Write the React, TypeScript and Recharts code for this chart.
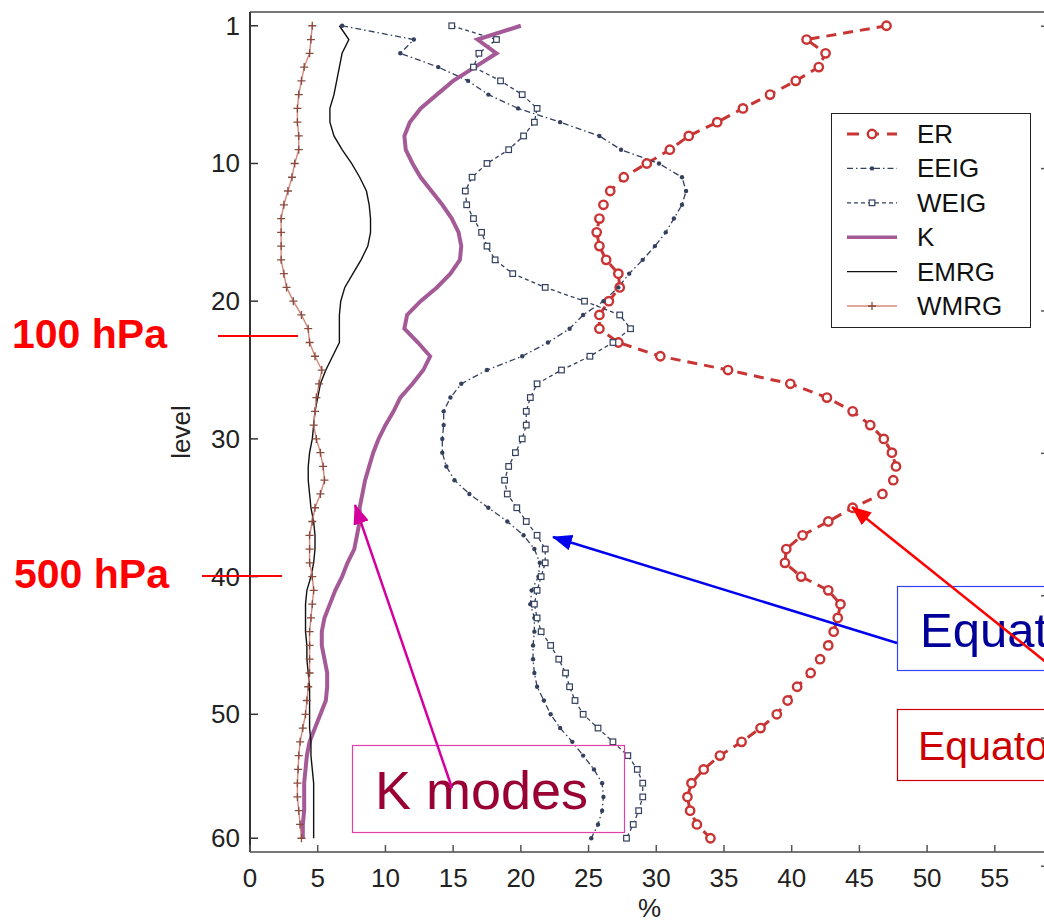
import React from "react";
import { LineChart, Line, XAxis, YAxis, Legend } from "recharts";

/* ---------- DATA ---------- */

const levels = [
  1, 2, 3, 4, 5, 6, 7, 8, 9, 10,
  11, 12, 13, 14, 15, 16, 17, 18, 19, 20,
  21, 22, 23, 24, 25, 26, 27, 28, 29, 30,
  31, 32, 33, 34, 35, 36, 37, 38, 39, 40,
  41, 42, 43, 44, 45, 46, 47, 48, 49, 50,
  51, 52, 53, 54, 55, 56, 57, 58, 59, 60
];

const erValues = [
  47.0, 41.1, 42.5, 42.0, 40.3, 38.4, 36.4, 34.5, 32.4, 31.0,
  29.3, 27.6, 26.6, 26.1, 25.8, 25.6, 25.8, 26.3, 27.2, 27.3,
  26.5, 25.8, 25.8, 27.2, 30.3, 35.3, 39.9, 42.6, 44.5, 45.8,
  46.8, 47.4, 47.7, 47.5, 46.7, 44.5, 42.7, 40.8, 39.6, 39.5,
  40.7, 42.7, 43.6, 43.4, 43.1, 42.7, 42.1, 41.4, 40.4, 39.7,
  38.9, 37.7, 36.3, 34.7, 33.5, 32.6, 32.3, 32.5, 33.0, 34.0
];

const eeigValues = [
  6.8, 12.1, 11.1, 13.9, 16.1, 17.6, 19.8, 22.9, 25.8, 27.4,
  30.2, 31.9, 32.2, 31.9, 31.3, 30.7, 29.9, 29.0, 28.0, 27.2,
  26.1, 24.6, 23.6, 22.0, 20.1, 17.5, 15.6, 14.8, 14.3, 14.3,
  14.2, 14.2, 14.5, 15.1, 16.2, 17.6, 19.0, 20.2, 21.0, 21.4,
  21.3, 20.8, 20.7, 21.0, 21.0, 20.9, 20.9, 21.0, 21.2, 21.7,
  22.2, 22.9, 23.8, 24.6, 25.4, 26.0, 26.1, 26.0, 25.7, 25.2
];

const weigValues = [
  14.9, 18.2, 16.9, 16.5, 18.5, 20.1, 21.2, 21.0, 20.2, 19.1,
  17.5, 16.4, 15.9, 16.0, 16.5, 17.1, 17.5, 18.1, 19.4, 21.8,
  24.7, 27.3, 28.1, 26.8, 25.1, 23.0, 21.2, 20.7, 20.4, 20.4,
  20.1, 19.6, 19.1, 18.8, 19.0, 19.7, 20.4, 21.2, 21.8, 21.8,
  21.5, 21.2, 21.0, 21.2, 21.5, 22.2, 22.8, 23.3, 23.6, 24.0,
  24.6, 25.7, 26.8, 27.9, 28.6, 29.0, 29.0, 28.7, 28.3, 27.8
];

const kValues = [
  20.0, 16.8, 18.2, 16.6, 15.0, 13.8, 12.6, 11.8, 11.4, 11.5,
  12.0, 12.6, 13.4, 14.2, 14.9, 15.4, 15.6, 15.5, 14.8, 13.8,
  12.6, 11.6, 11.4, 12.4, 13.3, 12.8, 12.0, 11.1, 10.6, 10.0,
  9.5, 9.1, 8.8, 8.5, 8.3, 8.1, 8.1, 7.9, 7.7, 7.2,
  6.8, 6.3, 5.9, 5.5, 5.3, 5.3, 5.5, 5.7, 5.7, 5.6,
  5.2, 4.8, 4.4, 4.2, 4.1, 4.0, 4.0, 4.0, 3.9, 3.9
];

const emrgValues = [
  6.6, 7.3, 6.8, 6.6, 6.4, 6.2, 5.9, 5.9, 6.2, 6.8,
  7.5, 8.1, 8.6, 8.8, 8.9, 8.9, 8.7, 8.2, 7.6, 7.0,
  6.7, 6.6, 6.6, 6.6, 6.1, 5.6, 5.2, 5.0, 4.8, 4.7,
  4.6, 4.4, 4.3, 4.3, 4.4, 4.5, 4.7, 4.8, 4.8, 4.7,
  4.5, 4.2, 4.1, 4.1, 4.1, 4.2, 4.2, 4.3, 4.4, 4.4,
  4.4, 4.4, 4.5, 4.5, 4.6, 4.7, 4.7, 4.7, 4.7, 4.7
];

const wmrgValues = [
  4.6, 4.5, 4.4, 4.0, 3.8, 3.6, 3.5, 3.5, 3.6, 3.6,
  3.3, 3.1, 2.8, 2.5, 2.3, 2.3, 2.3, 2.3, 2.5, 2.7,
  3.2, 3.8, 4.3, 4.4, 4.8, 5.3, 5.1, 4.9, 4.8, 4.7,
  4.9, 5.2, 5.4, 5.5, 5.2, 4.8, 4.6, 4.4, 4.4, 4.4,
  4.6, 4.7, 4.6, 4.5, 4.4, 4.4, 4.4, 4.4, 4.3, 4.2,
  4.1, 3.9, 3.7, 3.6, 3.55, 3.5, 3.5, 3.6, 3.7, 3.8
];

const xTicks = [0, 5, 10, 15, 20, 25, 30, 35, 40, 45, 50, 55];
const yTickLevels = [1, 11, 21, 31, 41, 51, 60];
const yTickLabels = ["1", "10", "20", "30", "40", "50", "60"];

const FONT = "'Liberation Sans', Arial, Helvetica, sans-serif";

/* ---------- SERIES STYLE ---------- */

const SERIES = [
  { key: "ER", color: "#c93434", markColor: "#c93434", width: 3, dash: "10 7", marker: "circle" },
  { key: "EEIG", color: "#34405e", markColor: "#34405e", width: 1.3, dash: "6 3 1.5 3", marker: "dot" },
  { key: "WEIG", color: "#34405e", markColor: "#34405e", width: 1.3, dash: "4 3", marker: "square" },
  { key: "K", color: "#a45a96", markColor: "#a45a96", width: 4, dash: undefined, marker: "none" },
  { key: "EMRG", color: "#111111", markColor: "#111111", width: 1.4, dash: undefined, marker: "none" },
  { key: "WMRG", color: "#d4887a", markColor: "#8a4a3e", width: 1.4, dash: undefined, marker: "plus" }
];

const chartData = levels.map((level, i) => ({
  level,
  ER: erValues[i],
  EEIG: eeigValues[i],
  WEIG: weigValues[i],
  K: kValues[i],
  EMRG: emrgValues[i],
  WMRG: wmrgValues[i]
}));

/* ---------- MARKERS ---------- */

function drawMarker(kind: string, color: string, cx: number, cy: number, key?: any) {
  if (kind === "circle") {
    return <circle key={key} cx={cx} cy={cy} r={4.2} fill="#fff" stroke={color} strokeWidth={2.4} />;
  }
  if (kind === "dot") {
    return <circle key={key} cx={cx} cy={cy} r={2.2} fill={color} />;
  }
  if (kind === "square") {
    return <rect key={key} x={cx - 2.8} y={cy - 2.8} width={5.6} height={5.6} fill="#fff" stroke={color} strokeWidth={1.2} />;
  }
  if (kind === "plus") {
    return (
      <path key={key} d={`M${cx - 4},${cy}H${cx + 4}M${cx},${cy - 4}V${cy + 4}`} stroke={color} strokeWidth={1.3} />
    );
  }
  return <g key={key} />;
}

function makeDot(kind: string, color: string) {
  return (props: any) => {
    const { cx, cy, index } = props;
    if (cx == null || cy == null) return <g key={`e-${index}`} />;
    return drawMarker(kind, color, cx, cy, `m-${index}`);
  };
}

/* ---------- TICKS ---------- */

function BottomTick({ x, y, payload }: any) {
  return (
    <g>
      <line x1={x} y1={y} x2={x} y2={y - 7} stroke="#555" strokeWidth={1.5} />
      <text x={x} y={y + 35} textAnchor="middle" fontSize={26} fill="#222" fontFamily={FONT}>
        {payload.value}
      </text>
    </g>
  );
}

function TopTick({ x, y }: any) {
  return <line x1={x} y1={y} x2={x} y2={y + 7} stroke="#555" strokeWidth={1.5} />;
}

function LeftTick({ x, y, payload }: any) {
  const idx = yTickLevels.indexOf(payload.value);
  return (
    <g>
      <line x1={x} y1={y} x2={x + 8} y2={y} stroke="#333" strokeWidth={1.5} />
      <text x={x - 10} y={y + 9} textAnchor="end" fontSize={26} fill="#222" fontFamily={FONT}>
        {idx >= 0 ? yTickLabels[idx] : payload.value}
      </text>
    </g>
  );
}

function RightTick({ x, y }: any) {
  return <line x1={x} y1={y} x2={x - 8} y2={y} stroke="#555" strokeWidth={1.5} />;
}

/* ---------- LEGEND ---------- */

function ChartLegend() {
  return (
    <div
      style={{
        width: 200,
        height: 215,
        border: "1.5px solid #222",
        background: "#fff",
        boxSizing: "border-box"
      }}
    >
      <svg width={197} height={212}>
        {SERIES.map((s, i) => {
          const cy = 20 + i * 34.4;
          return (
            <g key={s.key}>
              <line x1={15} y1={cy} x2={65} y2={cy} stroke={s.color} strokeWidth={Math.min(s.width, 3.5)} strokeDasharray={s.dash ? (s.key === "ER" ? "12 8" : s.dash) : undefined} />
              {drawMarker(s.marker, s.markColor, 40, cy)}
              <text x={85} y={cy + 9} fontSize={26} fill="#111" fontFamily={FONT}>
                {s.key}
              </text>
            </g>
          );
        })}
      </svg>
    </div>
  );
}

/* ---------- ANNOTATIONS ---------- */

function Annotations() {
  return (
    <svg
      width={1044}
      height={923}
      style={{ position: "absolute", left: 0, top: 0, pointerEvents: "none" }}
    >
      <defs>
        <marker id="ah-mag" markerUnits="userSpaceOnUse" markerWidth={20} markerHeight={16} refX={19} refY={8} orient="auto">
          <path d="M0,0 L20,8 L0,16 z" fill="#d4009e" />
        </marker>
        <marker id="ah-blue" markerUnits="userSpaceOnUse" markerWidth={20} markerHeight={16} refX={19} refY={8} orient="auto">
          <path d="M0,0 L20,8 L0,16 z" fill="#0000ee" />
        </marker>
        <marker id="ah-red" markerUnits="userSpaceOnUse" markerWidth={20} markerHeight={16} refX={19} refY={8} orient="auto">
          <path d="M0,0 L20,8 L0,16 z" fill="#ff0000" />
        </marker>
      </defs>

      {/* pressure labels */}
      <text x={12} y={348} fontSize={41} fontWeight="bold" fill="#ff0000" fontFamily={FONT}>100 hPa</text>
      <line x1={218} y1={336} x2={298} y2={336} stroke="#ff0000" strokeWidth={2} />
      <text x={14} y={588} fontSize={41} fontWeight="bold" fill="#ff0000" fontFamily={FONT}>500 hPa</text>
      <line x1={202} y1={576} x2={282} y2={576} stroke="#ff0000" strokeWidth={2} />

      {/* K modes box */}
      <rect x={352.5} y={745.5} width={272} height={87} fill="none" stroke="#e040a8" strokeWidth={1.2} />
      <text x={375} y={809} fontSize={54} fill="#990033" fontFamily={FONT}>K modes</text>

      {/* equatorial boxes */}
      <rect x={897.5} y={586.5} width={200} height={84} fill="none" stroke="#3344ee" strokeWidth={1.2} />
      <text x={920} y={647} fontSize={49} fill="#000099" fontFamily={FONT}>Equatorial IG modes</text>
      <rect x={897.5} y={709.5} width={200} height={71} fill="none" stroke="#cc0000" strokeWidth={1.2} />
      <text x={918} y={760} fontSize={41} fill="#cc0000" fontFamily={FONT}>Equatorial Rossby modes</text>

      {/* arrows */}
      <line x1={452} y1={788} x2={355} y2={505} stroke="#d4009e" strokeWidth={2.5} markerEnd="url(#ah-mag)" />
      <line x1={897} y1={643} x2={553} y2={537} stroke="#0000ee" strokeWidth={2.5} markerEnd="url(#ah-blue)" />
      <line x1={1062} y1={675} x2={852} y2={507} stroke="#ff0000" strokeWidth={2.5} markerEnd="url(#ah-red)" />
    </svg>
  );
}

/* ---------- CHART ---------- */

export default function App() {
  return (
    <div
      style={{
        position: "absolute",
        left: 0,
        top: 0,
        width: 1044,
        height: 923,
        overflow: "hidden",
        background: "#fff"
      }}
    >
      <LineChart
        width={1060}
        height={923}
        data={chartData}
        layout="vertical"
        margin={{ top: 11, right: 10, left: 0, bottom: 0 }}
      >
        <XAxis
          type="number"
          domain={[0, 59]}
          ticks={xTicks}
          interval={0}
          height={71}
          tickSize={0}
          tickMargin={0}
          tick={<BottomTick />}
          axisLine={{ stroke: "#777", strokeWidth: 2 }}
          label={{
            value: "%",
            content: (p: any) => (
              <text
                x={p.viewBox.x + p.viewBox.width / 2}
                y={p.viewBox.y + 65}
                textAnchor="middle"
                fontSize={26}
                fill="#222"
                fontFamily={FONT}
              >
                %
              </text>
            )
          }}
        />
        <XAxis
          xAxisId="top"
          orientation="top"
          type="number"
          domain={[0, 59]}
          ticks={xTicks}
          interval={0}
          height={1}
          tickSize={0}
          tickMargin={0}
          tick={<TopTick />}
          axisLine={{ stroke: "#777", strokeWidth: 2 }}
        />
        <YAxis
          type="number"
          dataKey="level"
          domain={[0, 61]}
          ticks={yTickLevels}
          interval={0}
          width={250}
          tickSize={0}
          tickMargin={0}
          tick={<LeftTick />}
          axisLine={{ stroke: "#333", strokeWidth: 2 }}
          label={{
            value: "level",
            content: (p: any) => {
              const cx = p.viewBox.x + 190;
              const cy = p.viewBox.y + p.viewBox.height / 2;
              return (
                <text
                  x={cx}
                  y={cy}
                  textAnchor="middle"
                  fontSize={26}
                  fill="#222"
                  fontFamily={FONT}
                  transform={`rotate(-90, ${cx}, ${cy})`}
                >
                  level
                </text>
              );
            }
          }}
        />
        <YAxis
          yAxisId="right"
          orientation="right"
          type="number"
          domain={[0, 61]}
          ticks={yTickLevels}
          interval={0}
          width={1}
          tickSize={0}
          tickMargin={0}
          tick={<RightTick />}
          axisLine={{ stroke: "#777", strokeWidth: 2 }}
        />

        {SERIES.map((s) => (
          <Line
            key={s.key}
            dataKey={s.key}
            name={s.key}
            type="linear"
            stroke={s.color}
            strokeWidth={s.width}
            strokeDasharray={s.dash}
            dot={s.marker === "none" ? false : makeDot(s.marker, s.markColor)}
            activeDot={false}
            isAnimationActive={false}
          />
        ))}

        <Legend
          layout="horizontal"
          verticalAlign="middle"
          align="center"
          wrapperStyle={{ left: 831, top: 113, width: 200, height: 215 }}
          content={<ChartLegend />}
        />
      </LineChart>
      <Annotations />
    </div>
  );
}
